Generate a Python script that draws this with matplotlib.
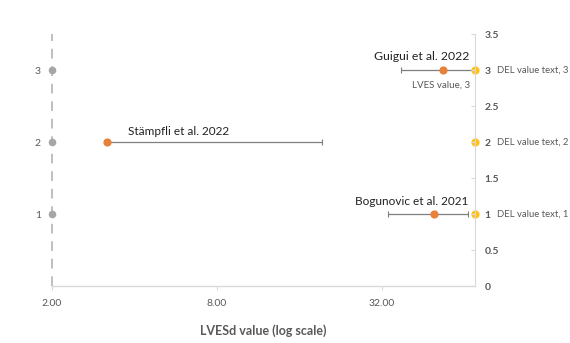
import matplotlib
matplotlib.use("Agg")
import matplotlib.pyplot as plt
from matplotlib.ticker import FixedLocator, NullLocator, NullFormatter

plt.rcParams['font.family'] = ['Lato', 'DejaVu Sans']

# ---- data ----
studies = ["Guigui et al. 2022", "Stämpfli et al. 2022", "Bogunovic et al. 2021"]
rows = [3, 2, 1]
lves = [53.4, 3.17, 49.6]
ci_low = [37.6, 3.17, 33.6]
ci_high = [70.0, 19.3, 65.8]
del_x = [70.0, 70.0, 70.0]
del_labels = ["DEL value text, 3", "DEL value text, 2", "DEL value text, 1"]
x_ticks = [2, 8, 32]
x_tick_labels = ["2.00", "8.00", "32.00"]
right_ticks = [0, 0.5, 1, 1.5, 2, 2.5, 3, 3.5]
right_tick_labels = ["0", "0.5", "1", "1.5", "2", "2.5", "3", "3.5"]
left_ticks = [1, 2, 3]

ORANGE = "#E8803A"
YELLOW = "#FFC21A"
GRAY = "#A6A6A6"
TXT = "#595959"

fig = plt.figure(figsize=(5.70, 3.43), dpi=100)
ax = fig.add_axes([52/570, 1-286/343, (475-52)/570, (286-34)/343])
ax.set_xscale('log', base=2)
ax.set_xlim(2, 70)
ax.set_ylim(0, 3.5)

for s in ['top', 'right', 'left']:
    ax.spines[s].set_visible(False)
ax.spines['bottom'].set_color("#D9D9D9")
ax.spines['bottom'].set_linewidth(1.0)

ax.axvline(2, color="#BFBFBF", lw=1.4, ls=(0, (5, 4)), clip_on=False, zorder=1)

ax.xaxis.set_major_locator(FixedLocator(x_ticks))
ax.set_xticklabels(x_tick_labels)
ax.xaxis.set_minor_locator(NullLocator())
ax.xaxis.set_minor_formatter(NullFormatter())
ax.tick_params(axis='x', length=3, color="#D9D9D9", labelsize=7.5, labelcolor=TXT, pad=6)

ax.set_yticks(left_ticks)
ax.set_yticklabels([str(t) for t in left_ticks])
ax.tick_params(axis='y', length=0, labelsize=7.5, labelcolor=TXT, pad=8)

ax2 = ax.twinx()
ax2.set_ylim(0, 3.5)
for s in ['top', 'left', 'bottom']:
    ax2.spines[s].set_visible(False)
ax2.spines['right'].set_color("#D9D9D9")
ax2.set_yticks(right_ticks)
ax2.set_yticklabels(right_tick_labels, fontweight='bold')
ax2.tick_params(axis='y', direction='in', length=3, color="#D9D9D9",
                labelsize=7.5, labelcolor=TXT, pad=7)

ax.scatter([2]*len(rows), rows, s=20, color=GRAY, zorder=4, clip_on=False)

for y, lo, hi, v in zip(rows, ci_low, ci_high, lves):
    ax.errorbar([v], [y], xerr=[[v - lo], [hi - v]], fmt='none', ecolor="#7F7F7F",
                elinewidth=0.9, capsize=2.2, capthick=0.8, zorder=2, clip_on=False)

ax.scatter(lves, rows, s=24, color=ORANGE, zorder=5, clip_on=False)
ax.scatter(del_x, rows, s=24, color=YELLOW, zorder=5, clip_on=False)

ax.text(67, 3.19, studies[0], ha='right', va='center', fontsize=8.8, color="#222222")
ax.text(3.79, 2.15, studies[1], ha='left', va='center', fontsize=8.5, color="#222222")
ax.text(66.4, 1.17, studies[2], ha='right', va='center', fontsize=8.5, color="#222222")
ax.text(67, 2.79, "LVES value, 3", ha='right', va='center', fontsize=7, color=TXT)

for x, y, lab in zip(del_x, rows, del_labels):
    ax.annotate(lab, (x, y), xytext=(16, 0), textcoords='offset points',
                ha='left', va='center', fontsize=6.8, color=TXT, annotation_clip=False)

ax.set_xlabel("LVESd value (log scale)", fontsize=9, fontweight='bold', color=TXT, labelpad=12)

fig.savefig("out.png", dpi=100, facecolor='white')
